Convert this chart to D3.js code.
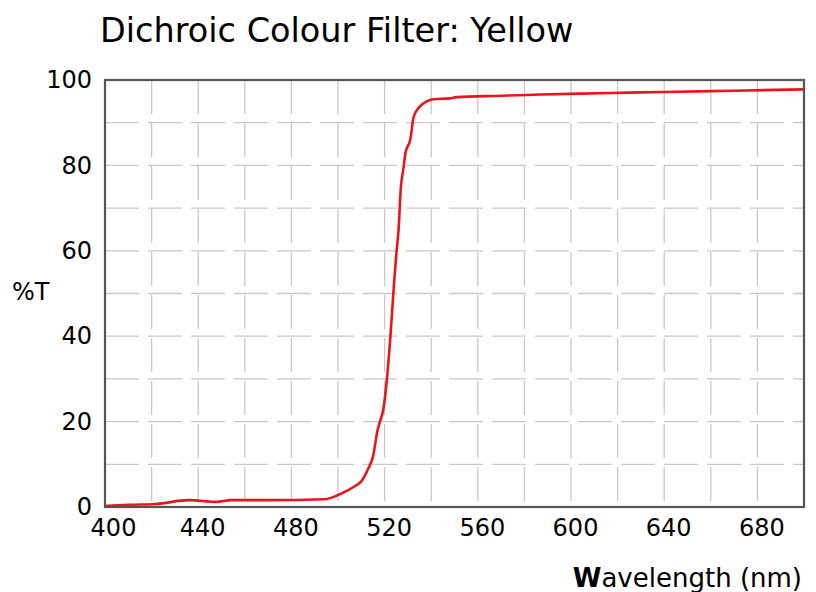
<!DOCTYPE html>
<html>
<head>
<meta charset="utf-8">
<script src="https://cdn.jsdelivr.net/npm/d3@7"></script>
<style>
  body { margin: 0; background: #fff; }
  text { font-family: "DejaVu Sans", Verdana, sans-serif; fill: #000; }
</style>
</head>
<body>
<div id="chart"></div>
<script>
// Transmission curve
const wavelength = [400, 410, 422, 436, 448, 454, 470, 494, 502, 507, 510, 513, 515, 517, 518, 519.5, 521, 522.5, 524, 525, 526, 527, 528, 529, 531, 532.5, 535, 538, 541, 548, 551, 570, 587, 612, 640, 670, 700];
const transmission = [0.2, 0.5, 0.7, 1.6, 1.2, 1.6, 1.6, 1.8, 3.3, 4.8, 6.0, 9.0, 11.8, 18, 20, 23, 30, 40, 52, 59, 65, 75, 79, 83, 86, 91.4, 93.7, 95.0, 95.5, 95.7, 96.0, 96.3, 96.6, 96.9, 97.2, 97.5, 97.8];
const xTicks = [400, 440, 480, 520, 560, 600, 640, 680];
const yTicks = [0, 20, 40, 60, 80, 100];

const W = 816, H = 592;
const margin = { top: 80, right: 12, bottom: 85, left: 105 };
const width = W - margin.left - margin.right;
const height = H - margin.top - margin.bottom;

const svg = d3.select("#chart").append("svg")
    .attr("width", W)
    .attr("height", H);

const g = svg.append("g")
    .attr("transform", `translate(${margin.left},${margin.top})`);

const x = d3.scaleLinear().domain([400, 700]).range([0, width]);
const y = d3.scaleLinear().domain([0, 100]).range([height, 0]);

// dashed grid
g.append("g").selectAll("line")
    .data(d3.range(10, 100, 10))
    .enter().append("line")
    .attr("x1", 0).attr("x2", width)
    .attr("y1", d => y(d)).attr("y2", d => y(d))
    .attr("stroke", "#c8c8c8").attr("stroke-width", 1.3)
    .attr("stroke-dasharray", "34 9");

g.append("g").selectAll("line")
    .data(d3.range(420, 700, 20))
    .enter().append("line")
    .attr("x1", d => x(d)).attr("x2", d => x(d))
    .attr("y1", 0).attr("y2", height)
    .attr("stroke", "#c8c8c8").attr("stroke-width", 1.3)
    .attr("stroke-dasharray", "34 9");

// axes (labels only, frame drawn separately)
const xAxis = g.append("g")
    .attr("transform", `translate(0,${height})`)
    .call(d3.axisBottom(x).tickValues(xTicks).tickSize(0).tickPadding(12).tickFormat(d3.format("d")));
xAxis.select(".domain").remove();
xAxis.selectAll("text")
    .style("font-size", "24px")
    .attr("dy", "0.72em")
    .attr("dx", d => d === 400 ? 8 : 4); // first label sits clear of the frame corner

const yAxis = g.append("g")
    .call(d3.axisLeft(y).tickValues(yTicks).tickSize(0).tickPadding(13));
yAxis.select(".domain").remove();
yAxis.selectAll("text").style("font-size", "24px");

// curve
const line = d3.line()
    .x((d, i) => x(wavelength[i]))
    .y(d => y(d))
    .curve(d3.curveMonotoneX);

g.append("path")
    .datum(transmission)
    .attr("fill", "none")
    .attr("stroke", "#e8151b")
    .attr("stroke-width", 2.6)
    .attr("stroke-linejoin", "round")
    .attr("d", line);

// frame
g.append("rect")
    .attr("width", width).attr("height", height)
    .attr("fill", "none")
    .attr("stroke", "#555").attr("stroke-width", 2.2);

// title
svg.append("text")
    .attr("x", 100).attr("y", 42)
    .style("font-size", "33.5px")
    .text("Dichroic Colour Filter: Yellow");

// y label
svg.append("text")
    .attr("x", 12).attr("y", 300)
    .style("font-size", "24px")
    .text("%T");

// x label with bold W
const xl = svg.append("text")
    .attr("x", margin.left + width - 2).attr("y", 587)
    .attr("text-anchor", "end")
    .style("font-size", "26px");
xl.append("tspan").style("font-weight", "bold").text("W");
xl.append("tspan").text("avelength (nm)");
</script>
</body>
</html>
